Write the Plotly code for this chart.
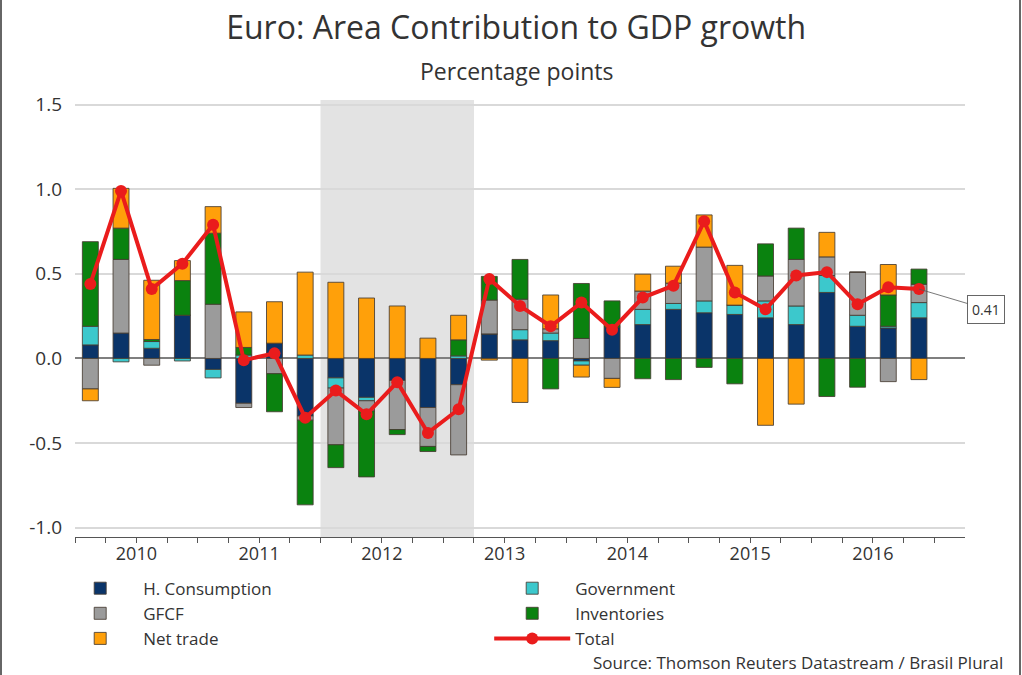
import plotly.graph_objects as go

quarters = list(range(28))
years = ["2010", "2011", "2012", "2013", "2014", "2015", "2016"]

h_consumption = [0.08, 0.15, 0.06, 0.255, -0.065, -0.265, 0.09, -0.34, -0.115, -0.23, -0.13, -0.29, -0.155, 0.145,
                 0.11, 0.105, -0.015, 0.185, 0.20, 0.29, 0.27, 0.26, 0.24, 0.20, 0.39, 0.19, 0.18, 0.24]
government = [0.11, -0.02, 0.04, -0.015, -0.05, 0.02, 0.0, 0.02, -0.06, -0.02, 0.0, 0.0, 0.015, 0.0,
              0.06, 0.045, -0.025, 0.0, 0.09, 0.035, 0.07, 0.055, 0.10, 0.11, 0.10, 0.065, 0.01, 0.09]
gfcf = [-0.18, 0.435, -0.04, 0.0, 0.32, -0.025, -0.09, -0.025, -0.335, -0.06, -0.29, -0.23, -0.415, 0.20,
        0.18, 0.025, 0.118, -0.118, 0.108, 0.12, 0.318, 0.0, 0.147, 0.275, 0.11, 0.255, -0.137, 0.108]
inventories = [0.50, 0.185, 0.012, 0.205, 0.42, 0.045, -0.225, -0.50, -0.135, -0.39, -0.03, -0.03, 0.095, 0.14,
               0.235, -0.18, 0.325, 0.155, -0.12, -0.125, -0.053, -0.15, 0.19, 0.185, -0.225, -0.17, 0.185, 0.09]
net_trade = [-0.07, 0.235, 0.35, 0.118, 0.157, 0.21, 0.245, 0.49, 0.45, 0.357, 0.31, 0.12, 0.145, -0.01,
             -0.26, 0.20, -0.07, -0.053, 0.10, 0.10, 0.19, 0.235, -0.395, -0.27, 0.145, 0.0, 0.18, -0.125]
total = [0.44, 0.99, 0.41, 0.56, 0.79, -0.01, 0.03, -0.35, -0.19, -0.33, -0.14, -0.44, -0.30, 0.47,
         0.31, 0.19, 0.33, 0.17, 0.36, 0.43, 0.81, 0.39, 0.29, 0.49, 0.51, 0.32, 0.42, 0.41]

yticks = [-1.0, -0.5, 0.0, 0.5, 1.0, 1.5]
ytext = ["-1.0", "-0.5", "0.0", "0.5", "1.0", "1.5"]
year_centers = [1.5 + 4 * i for i in range(7)]
year_bounds = [-0.5 + 4 * i for i in range(8)]
quarter_bounds = [-0.5 + i for i in range(29)]

FONT = "Open Sans"
TXT = "#333333"
series = [
    ("H. Consumption", h_consumption, "#0a3469"),
    ("Government", government, "#3cc8cc"),
    ("GFCF", gfcf, "#9b9b9b"),
    ("Inventories", inventories, "#0a820f"),
    ("Net trade", net_trade, "#ffa00a"),
]

fig = go.Figure()
for name, vals, col in series:
    fig.add_trace(go.Bar(x=quarters, y=vals, name=name, width=0.52,
                         marker=dict(color=col, line=dict(color="rgba(70,60,50,0.85)", width=1))))
fig.add_trace(go.Scatter(x=quarters, y=total, name="Total", mode="lines+markers",
                         line=dict(color="#ea1c1c", width=4),
                         marker=dict(color="#ea1c1c", size=12)))

yr = [-1.055, 1.527]
fig.update_layout(
    width=1022, height=675,
    margin=dict(l=75, r=57, t=100, b=138),
    paper_bgcolor="white", plot_bgcolor="white",
    barmode="relative",
    font=dict(family=FONT, color=TXT),
    title=dict(text="Euro: Area Contribution to GDP growth", x=0.505, xanchor="center",
               y=1 - 28 / 675, yanchor="middle", font=dict(size=32, color=TXT, family=FONT)),
    xaxis=dict(range=[-0.5, 28.5], tickvals=year_centers, ticktext=years, ticks="",
               tickfont=dict(size=18, color=TXT), showgrid=False, zeroline=False,
               showline=True, linecolor="#555555", linewidth=1.2,
               minor=dict(tickvals=quarter_bounds, ticks="outside", ticklen=5, tickcolor="#555555",
                          tickwidth=1, showgrid=False)),
    xaxis2=dict(range=[-0.5, 28.5], overlaying="x", anchor="y", side="bottom", tickvals=year_bounds,
                ticks="outside", ticklen=8, tickcolor="#555555", showticklabels=False,
                showgrid=False, zeroline=False, showline=False),
    yaxis=dict(range=yr, tickvals=yticks, ticktext=ytext, tickfont=dict(size=19, color=TXT),
               showgrid=True, gridcolor="#d9d9d9", gridwidth=1.5,
               zeroline=True, zerolinecolor="#7f7f7f", zerolinewidth=1.5, ticks="", ticklabelstandoff=12),
    yaxis2=dict(range=yr, overlaying="y", side="right", anchor="x", tickvals=yticks, ticktext=ytext,
                tickfont=dict(size=19, color=TXT), showgrid=False, zeroline=False, ticks="",
                ticklabelstandoff=8),
    legend=dict(orientation="h", x=-0.02, xanchor="left", y=-0.077, yanchor="top",
                entrywidth=341, itemwidth=76, traceorder="normal", font=dict(size=17, color=TXT),
                bgcolor="rgba(0,0,0,0)"),
    showlegend=True,
)

fig.add_shape(type="rect", xref="x", yref="paper", x0=7.5, x1=12.5, y0=0, y1=1,
              fillcolor="#e3e3e3", line=dict(width=0), layer="below")

fig.add_annotation(text="Percentage points", xref="paper", yref="paper", x=0.497, y=(537 - 71) / 437,
                   xanchor="center", yanchor="middle", showarrow=False, font=dict(size=23, color=TXT))
fig.add_annotation(text="Source: Thomson Reuters Datastream / Brasil Plural", xref="paper", yref="paper",
                   x=(1005 - 75) / 890, y=(537 - 662) / 437, xanchor="right", yanchor="middle",
                   showarrow=False, font=dict(size=17, color=TXT))
fig.add_annotation(text="0.41", x=quarters[-1], y=total[-1], xref="x", yref="y", showarrow=True,
                   arrowhead=0, arrowwidth=0.8, arrowcolor="#555555", ax=67, ay=20,
                   bordercolor="#666666", borderwidth=1, borderpad=4, bgcolor="white",
                   font=dict(size=14, color=TXT))

for px in (1, 1020):
    fig.add_shape(type="line", xref="paper", yref="paper", x0=(px - 75) / 890, x1=(px - 75) / 890,
                  y0=-138 / 437, y1=1 + 100 / 437, line=dict(color="#333333", width=1.5))

fig.write_html("out.html")
